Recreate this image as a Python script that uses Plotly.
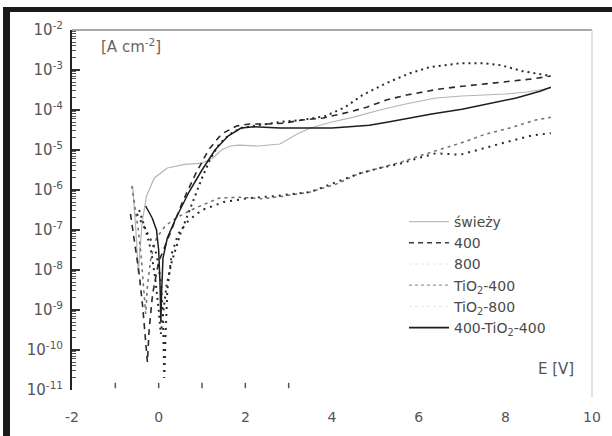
import numpy as np
import plotly.graph_objects as go

# Potential E [V] and log10 of current density [A cm^-2] for each sample
E_swiezy = [-0.6, -0.56, -0.52, -0.49, -0.47, -0.44, -0.38, -0.28, -0.1, 0.2, 0.6, 1.0, 1.25, 1.45,
            1.65, 1.85, 2.3, 2.8, 3.2, 3.5, 4.0, 4.5, 5.1, 5.7, 6.4, 7.0, 7.5, 8.0, 8.5, 9.05]
logi_swiezy = [-5.9, -6.4, -7.1, -7.7, -8.1, -7.6, -6.8, -6.15, -5.7, -5.45, -5.36, -5.33, -5.2, -5.0,
               -4.9, -4.88, -4.9, -4.85, -4.6, -4.45, -4.3, -4.18, -4.0, -3.85, -3.7, -3.65, -3.63, -3.6, -3.55, -3.45]

E_400 = [-0.65, -0.55, -0.45, -0.37, -0.3, -0.26, -0.22, -0.14, 0.0, 0.25, 0.55, 0.85, 1.15, 1.45, 1.8,
         2.1, 2.5, 2.9, 3.3, 3.8, 4.4, 4.8, 5.25, 5.75, 6.45, 6.9, 7.5, 8.0, 8.65, 9.05]
logi_400 = [-6.6, -7.3, -8.1, -8.9, -9.7, -10.3, -9.5, -8.6, -7.8, -7.1, -6.3, -5.6, -5.0, -4.6, -4.4,
            -4.35, -4.35, -4.33, -4.25, -4.2, -4.05, -3.93, -3.75, -3.62, -3.48, -3.42, -3.35, -3.3, -3.22, -3.15]

E_800 = [-0.45, -0.3, -0.18, -0.08, 0.0, 0.05, 0.1, 0.18, 0.3, 0.5, 0.75, 1.0, 1.2, 1.4, 1.65, 1.9,
         2.3, 2.8, 3.3, 3.85, 4.3, 4.7, 5.25, 5.8, 6.25, 6.95, 7.5, 7.9, 8.4, 9.05]
logi_800 = [-6.5, -7.0, -7.5, -8.2, -9.0, -9.6, -9.1, -8.4, -7.8, -7.1, -6.4, -5.7, -5.2, -4.85, -4.6, -4.45,
            -4.38, -4.3, -4.25, -4.15, -3.93, -3.63, -3.33, -3.08, -2.93, -2.83, -2.83, -2.88, -3.03, -3.15]

E_tio2_400 = [-0.62, -0.55, -0.47, -0.4, -0.34, -0.3, -0.26, -0.18, -0.05, 0.15, 0.4, 0.75, 1.0, 1.4, 1.85,
              2.4, 2.9, 3.5, 4.1, 4.6, 5.1, 5.6, 6.1, 6.6, 7.1, 7.5, 8.1, 8.7, 9.05]
logi_tio2_400 = [-5.9, -6.4, -7.0, -7.7, -8.5, -9.1, -8.4, -7.7, -7.2, -6.9, -6.7, -6.5, -6.38, -6.2, -6.18,
                 -6.22, -6.15, -6.05, -5.85, -5.6, -5.45, -5.3, -5.12, -4.95, -4.78, -4.62, -4.45, -4.25, -4.18]

E_tio2_800 = [-0.5, -0.35, -0.2, -0.05, 0.05, 0.1, 0.13, 0.16, 0.2, 0.3, 0.45, 0.7, 1.0, 1.5, 2.1, 2.7,
              3.5, 4.1, 4.65, 5.1, 5.55, 6.0, 6.4, 6.95, 7.35, 7.8, 8.2, 8.65, 9.05]
logi_tio2_800 = [-6.6, -6.9, -7.2, -7.6, -8.3, -9.2, -10.7, -9.6, -8.5, -7.6, -7.1, -6.75, -6.5, -6.3, -6.2, -6.15,
                 -6.05, -5.8, -5.58, -5.45, -5.35, -5.2, -5.08, -5.12, -5.0, -4.88, -4.75, -4.63, -4.58]

E_400_tio2_400 = [-0.3, -0.15, -0.05, 0.0, 0.03, 0.05, 0.07, 0.1, 0.2, 0.4, 0.7, 1.0, 1.3, 1.6, 1.9, 2.2,
                  2.8, 3.4, 4.0, 4.4, 4.86, 5.3, 5.7, 6.3, 7.0, 7.65, 8.25, 8.8, 9.05]
logi_400_tio2_400 = [-6.4, -6.7, -7.0, -7.5, -8.3, -9.3, -8.5, -7.7, -7.2, -6.7, -6.05, -5.5, -5.0, -4.65, -4.45, -4.42,
                     -4.45, -4.45, -4.45, -4.42, -4.38, -4.3, -4.22, -4.1, -3.98, -3.83, -3.7, -3.53, -3.43]

series_names = ["świeży", "400", "800", "TiO<sub>2</sub>-400", "TiO<sub>2</sub>-800", "400-TiO<sub>2</sub>-400"]

x_ticks = [-2, 0, 2, 4, 6, 8, 10]
y_exponents = [-11, -10, -9, -8, -7, -6, -5, -4, -3, -2]
x_minor_marks = [-1, 0, 1, 2, 3]

W, H = 612, 436
L, R, T, B = 72, 20, 30, 46
FONT = "DejaVu Sans, Verdana, sans-serif"

styles = [
    dict(color="#b4b4b4", width=1.2, dash="solid"),
    dict(color="#2a2a2a", width=1.6, dash="6px,5px"),
    dict(color="#2a2a2a", width=2.0, dash="2px,4px"),
    dict(color="#6e6e6e", width=1.5, dash="3px,4px"),
    dict(color="#2a2a2a", width=2.0, dash="2px,5px"),
    dict(color="#1e1e1e", width=1.5, dash="solid"),
]
legend_styles = [
    dict(color="#bdbdbd", width=1.2, dash="solid"),
    dict(color="#3a3a3a", width=1.4, dash="5px,4px"),
    dict(color="#e6e6e6", width=1.0, dash="dot"),
    dict(color="#9a9a9a", width=1.2, dash="3px,3px"),
    dict(color="#e6e6e6", width=1.0, dash="dot"),
    dict(color="#1e1e1e", width=1.6, dash="solid"),
]

data = [
    (E_swiezy, logi_swiezy),
    (E_400, logi_400),
    (E_800, logi_800),
    (E_tio2_400, logi_tio2_400),
    (E_tio2_800, logi_tio2_800),
    (E_400_tio2_400, logi_400_tio2_400),
]

fig = go.Figure()
for (E, logi), st in zip(data, styles):
    fig.add_trace(go.Scatter(x=E, y=10 ** np.array(logi), mode="lines",
                             line=st, showlegend=False, hoverinfo="skip"))
for name, st in zip(series_names, legend_styles):
    fig.add_trace(go.Scatter(x=[None], y=[None], mode="lines", name=name, line=st))

def px_x(px):
    return (px - L) / (W - L - R)

def px_y(py):
    return (H - B - py) / (H - T - B)

shapes = [
    # black frame along the top and left edges of the page
    dict(type="rect", xref="paper", yref="paper", x0=px_x(3), x1=px_x(10), y0=px_y(436), y1=px_y(7),
         fillcolor="#1a1a1a", line=dict(width=0), layer="above"),
    dict(type="rect", xref="paper", yref="paper", x0=px_x(3), x1=px_x(612), y0=px_y(12), y1=px_y(7),
         fillcolor="#1a1a1a", line=dict(width=0), layer="above"),
    # top and right borders of the plot box
    dict(type="line", xref="paper", yref="paper", x0=0, x1=1, y0=1, y1=1,
         line=dict(color="#8a8a8a", width=1.5)),
    dict(type="line", xref="paper", yref="paper", x0=1, x1=1, y0=-0.02, y1=1,
         line=dict(color="#d0d0d0", width=1.2)),
]
for xv in x_minor_marks:
    shapes.append(dict(type="line", xref="x", yref="paper", x0=xv, x1=xv, y0=0.005, y1=0.02,
                       line=dict(color="#555555", width=1.5)))

fig.update_layout(
    width=W, height=H,
    margin=dict(l=L, r=R, t=T, b=B),
    paper_bgcolor="white", plot_bgcolor="white",
    font=dict(family=FONT, color="#555555", size=15),
    shapes=shapes,
    legend=dict(x=px_x(404), y=px_y(206), xanchor="left", yanchor="top",
                bgcolor="rgba(0,0,0,0)", font=dict(family=FONT, size=14, color="#4a4a4a"),
                tracegroupgap=0, itemwidth=40),
    annotations=[
        dict(text="[A cm<sup>-2</sup>]", x=px_x(99), y=px_y(46), xref="paper", yref="paper",
             xanchor="left", yanchor="middle", showarrow=False,
             font=dict(family=FONT, size=15, color="#666666")),
        dict(text="E [V]", x=px_x(576), y=px_y(369), xref="paper", yref="paper",
             xanchor="right", yanchor="middle", showarrow=False,
             font=dict(family=FONT, size=15, color="#555555")),
    ],
)
fig.update_xaxes(range=[-2, 10], tickvals=x_ticks, ticktext=[str(v) for v in x_ticks],
                 showline=False, showgrid=False, zeroline=False, ticks="",
                 ticklabelstandoff=17, tickfont=dict(family=FONT, size=14, color="#555555"))
fig.update_yaxes(type="log", range=[-11, -2],
                 tickvals=[10.0 ** e for e in y_exponents],
                 ticktext=[f"10<sup>{e}</sup>" for e in y_exponents],
                 showline=True, linecolor="#222222", linewidth=2, mirror=False,
                 showgrid=False, zeroline=False,
                 ticks="inside", ticklen=8, tickwidth=1.5, tickcolor="#333333",
                 minor=dict(ticks="inside", ticklen=4, tickcolor="#555555", tickwidth=1,
                            tickvals=[m * 10.0 ** e for e in y_exponents[:-1] for m in range(2, 10)]),
                 ticklabelstandoff=4, tickfont=dict(family=FONT, size=15, color="#555555"))

fig.write_html("out.html")
